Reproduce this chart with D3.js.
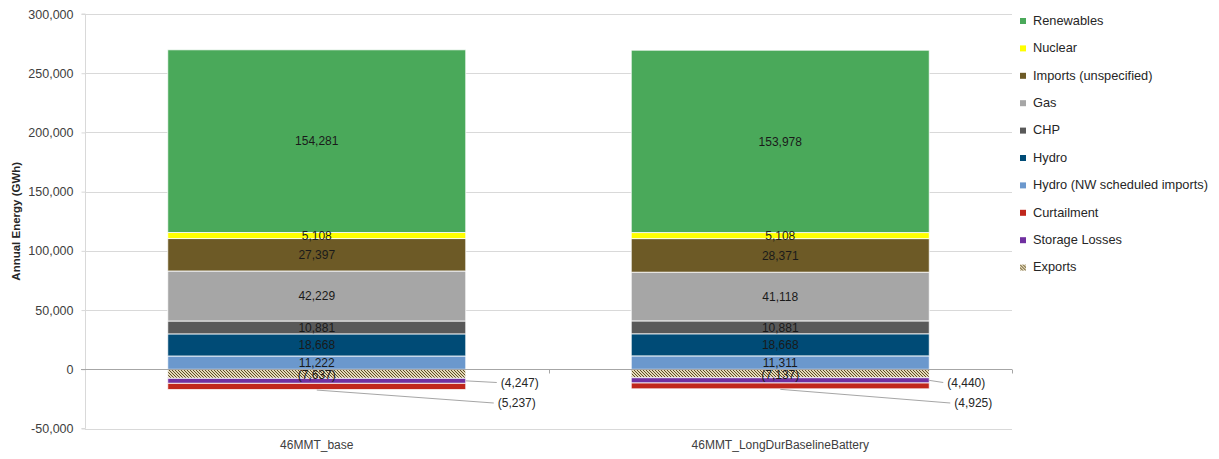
<!DOCTYPE html>
<html>
<head>
<meta charset="utf-8">
<script src="https://cdn.jsdelivr.net/npm/d3@7"></script>
<style>
  html, body { margin: 0; padding: 0; background: #fff; }
  svg { display: block; font-family: "Liberation Sans", Arial, sans-serif; }
</style>
</head>
<body>
<svg id="chart" width="1219" height="459"></svg>
<script>
// ---------- data ----------
const categories = ["46MMT_base", "46MMT_LongDurBaselineBattery"];
const seriesNames = ["Exports", "Storage Losses", "Curtailment", "Hydro (NW scheduled imports)", "Hydro", "CHP", "Gas", "Imports (unspecified)", "Nuclear", "Renewables"];
const exportsVals = [-7637, -7137];
const storageLossVals = [-4247, -4440];
const curtailmentVals = [-5237, -4925];
const hydroNWVals = [11222, 11311];
const hydroVals = [18668, 18668];
const chpVals = [10881, 10881];
const gasVals = [42229, 41118];
const importsVals = [27397, 28371];
const nuclearVals = [5108, 5108];
const renewablesVals = [154281, 153978];
const yTicks = [-50000, 0, 50000, 100000, 150000, 200000, 250000, 300000];
const legendOrder = ["Renewables", "Nuclear", "Imports (unspecified)", "Gas", "CHP", "Hydro", "Hydro (NW scheduled imports)", "Curtailment", "Storage Losses", "Exports"];

const valuesBySeries = {
  "Exports": exportsVals,
  "Storage Losses": storageLossVals,
  "Curtailment": curtailmentVals,
  "Hydro (NW scheduled imports)": hydroNWVals,
  "Hydro": hydroVals,
  "CHP": chpVals,
  "Gas": gasVals,
  "Imports (unspecified)": importsVals,
  "Nuclear": nuclearVals,
  "Renewables": renewablesVals
};

// ---------- styles ----------
const colors = {
  "Renewables": "#4aa95a",
  "Nuclear": "#ffff00",
  "Imports (unspecified)": "#6d5a26",
  "Gas": "#a6a6a6",
  "CHP": "#595959",
  "Hydro": "#004b76",
  "Hydro (NW scheduled imports)": "#6b98cd",
  "Curtailment": "#c0271c",
  "Storage Losses": "#7030a0",
  "Exports": "url(#hatch)"
};

const locale = d3.formatLocale({ decimal: ".", thousands: ",", grouping: [3], currency: ["$", ""], minus: "-" });
const comma = locale.format(",");

const svg = d3.select("#chart");
const defs = svg.append("defs");
const pat = defs.append("pattern").attr("id", "hatch").attr("patternUnits", "userSpaceOnUse")
  .attr("width", 3).attr("height", 3);
pat.append("rect").attr("width", 3).attr("height", 3).attr("fill", "#e3d8b8");
pat.append("path").attr("d", "M-1,-1 L4,4 M-1,2 L1,4 M2,-1 L4,1").attr("stroke", "#5e4e24").attr("stroke-width", 1);

const x0 = 85, x1 = 1012;
const x = d3.scaleBand().domain(categories).range([x0, x1]).paddingInner(0.357).paddingOuter(0.1785);
const y = d3.scaleLinear().domain([-50000, 300000]).range([428.5, 14]);

// gridlines
svg.append("g").selectAll("line").data(yTicks.filter(t => t !== 0)).join("line")
  .attr("x1", x0).attr("x2", x1)
  .attr("y1", d => Math.round(y(d)) + 0.5).attr("y2", d => Math.round(y(d)) + 0.5)
  .attr("stroke", "#d9d9d9").attr("stroke-width", 1);

// y axis
const yAxis = d3.axisLeft(y).tickValues(yTicks).tickSize(4).tickPadding(8)
  .tickFormat(d => comma(d));
const yg = svg.append("g").attr("transform", `translate(${x0 + 0.5},0)`).call(yAxis);
yg.select(".domain").attr("stroke", "#d9d9d9").attr("d", `M-4,${y(300000)}H0V${y(-50000)}H-4`);
yg.selectAll(".tick line").attr("stroke", "#d9d9d9");
yg.selectAll(".tick text").attr("fill", "#404040").style("font-size", "12.5px");

svg.append("text")
  .attr("transform", `translate(17,${(y(300000) + y(-50000)) / 2}) rotate(-90)`)
  .attr("text-anchor", "middle").attr("dominant-baseline", "middle")
  .style("font-size", "11.5px").style("font-weight", "bold").attr("fill", "#262626")
  .text("Annual Energy (GWh)");

// stacked bars
const rows = categories.map((c, i) => {
  const r = { cat: c };
  seriesNames.forEach(s => r[s] = valuesBySeries[s][i]);
  return r;
});
const stack = d3.stack().keys(seriesNames).offset(d3.stackOffsetDiverging);
const layers = stack(rows);

const barsG = svg.append("g");
layers.forEach(layer => {
  barsG.selectAll(null).data(layer).join("rect")
    .attr("x", d => x(d.data.cat))
    .attr("width", x.bandwidth())
    .attr("y", d => y(Math.max(d[0], d[1])))
    .attr("height", d => Math.abs(y(d[0]) - y(d[1])))
    .attr("fill", colors[layer.key])
    .attr("stroke", "#ffffff").attr("stroke-opacity", 0.8).attr("stroke-width", 1);
});

// zero line + category ticks
const zy = Math.round(y(0)) + 0.5;
svg.append("line").attr("x1", x0 - 4).attr("x2", x1).attr("y1", zy).attr("y2", zy)
  .attr("stroke", "#a6a6a6").attr("stroke-width", 1);
const bounds = [x0, x0 + x.step(), x1];
svg.append("g").selectAll("line").data(bounds.slice(1)).join("line")
  .attr("x1", d => Math.round(d) + 0.5).attr("x2", d => Math.round(d) + 0.5)
  .attr("y1", zy).attr("y2", zy + 4).attr("stroke", "#a6a6a6");

// category labels
svg.append("g").selectAll("text").data(categories).join("text")
  .attr("x", d => x(d) + x.bandwidth() / 2).attr("y", 446)
  .attr("text-anchor", "middle").attr("dominant-baseline", "middle")
  .style("font-size", "12px").attr("fill", "#404040").text(d => d);

// data labels
const fmt = v => v < 0 ? "(" + comma(-v) + ")" : comma(v);
const inside = ["Exports", "Hydro (NW scheduled imports)", "Hydro", "CHP", "Gas", "Imports (unspecified)", "Nuclear", "Renewables"];
const labG = svg.append("g");
layers.filter(l => inside.includes(l.key)).forEach(layer => {
  labG.selectAll(null).data(layer).join("text")
    .attr("x", d => x(d.data.cat) + x.bandwidth() / 2)
    .attr("y", d => (y(d[0]) + y(d[1])) / 2 + (layer.key === "Exports" ? 2 : 1))
    .attr("text-anchor", "middle").attr("dominant-baseline", "middle")
    .style("font-size", "12px").attr("fill", "#1a1a1a")
    .text(d => fmt(d.data[layer.key]));
});

// callout labels with leader lines (storage losses & curtailment)
const calloutLayout = {
  "Storage Losses": { dx: [35, 18], ty: 383.5, from: "right" },
  "Curtailment":    { dx: [32, 25], ty: 404, from: "center" }
};
["Storage Losses", "Curtailment"].forEach(key => {
  const layer = layers.find(l => l.key === key);
  const cfg = calloutLayout[key];
  layer.forEach((d, i) => {
    const bx = x(d.data.cat), bw = x.bandwidth();
    const right = bx + bw;
    const tx = right + cfg.dx[i];
    let sx, sy;
    if (cfg.from === "right") { sx = right; sy = (y(d[0]) + y(d[1])) / 2; }
    else { sx = bx + bw / 2; sy = y(Math.min(d[0], d[1])) + 0.5; }
    svg.append("line").attr("x1", sx).attr("y1", sy).attr("x2", tx - 4).attr("y2", cfg.ty - 1)
      .attr("stroke", "#a6a6a6").attr("stroke-width", 1);
    svg.append("text").attr("x", tx).attr("y", cfg.ty)
      .attr("dominant-baseline", "middle").style("font-size", "12px").attr("fill", "#262626")
      .text(fmt(d.data[key]));
  });
});

// legend
const lg = svg.append("g").attr("transform", "translate(1020,21)");
const items = lg.selectAll("g").data(legendOrder).join("g")
  .attr("transform", (d, i) => `translate(0,${i * 27.4})`);
items.append("rect").attr("x", 0).attr("y", -3).attr("width", 6).attr("height", 6)
  .attr("fill", d => colors[d]);
items.append("text").attr("x", 13).attr("y", 0.5).attr("dominant-baseline", "middle")
  .style("font-size", "12.8px").attr("fill", "#262626").text(d => d);
</script>
</body>
</html>
